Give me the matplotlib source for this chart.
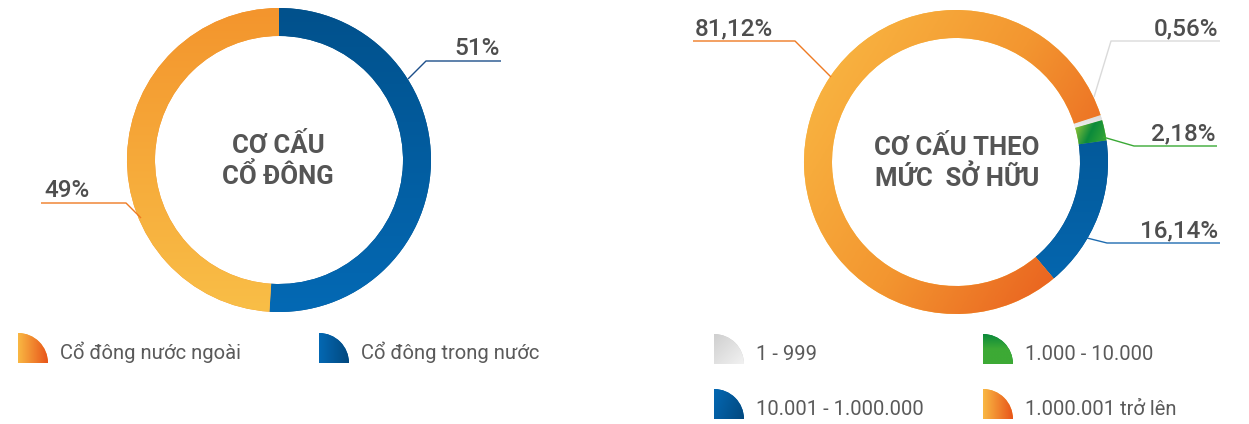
import numpy as np
import matplotlib
matplotlib.use("Agg")
import matplotlib.pyplot as plt
from matplotlib.colors import LinearSegmentedColormap
from matplotlib.patches import Wedge

plt.rcParams['font.family'] = ['Roboto', 'DejaVu Sans']

# ---------------- data ----------------
left_title = "CƠ CẤU\nCỔ ĐÔNG"
left_labels = ["Cổ đông trong nước", "Cổ đông nước ngoài"]
left_values = [51, 49]
left_texts = ["51%", "49%"]

right_title = "CƠ CẤU THEO\nMỨC  SỞ HỮU"
right_labels = ["1 - 999", "1.000 - 10.000", "10.001 - 1.000.000", "1.000.001 trở lên"]
right_values = [0.56, 2.18, 16.14, 81.12]
right_texts = ["0,56%", "2,18%", "16,14%", "81,12%"]

# ---------------- styles ----------------
W, H = 1249, 424
TXT = "#4E4E4E"

def Y(y):
    return H - y

# (colors, angle, local-gradient?)
left_grads = [(["#01518C", "#0469B4"], -90, False),
              (["#F3952D", "#F9BE47"], -90, False)]
left_line_colors = ["#1D4F8A", "#EE7A22"]
right_grads = [(["#DADADA", "#F0F0F0"], -90, True),
               (["#A6CE39", "#0B8A3B", "#3DAA35"], -20, True),
               (["#024E88", "#0569B3"], -90, False),
               (["#FABB45", "#F39630", "#E6501A"], -31, False)]
right_line_colors = ["#DADADA", "#3AA935", "#1F6CB0", "#EE7A22"]

fig = plt.figure(figsize=(W / 100, H / 100), dpi=100)
ax = fig.add_axes([0, 0, 1, 1])


def grad_fill(patch, colors, angle, extent, z=2):
    n = 200
    xs = np.linspace(-1, 1, n)
    X, Yg = np.meshgrid(xs, xs)
    a = np.deg2rad(angle)
    t = (X * np.cos(a) + Yg * np.sin(a)) / (abs(np.cos(a)) + abs(np.sin(a)))
    t = (t + 1) / 2
    cmap = LinearSegmentedColormap.from_list("g", colors)
    im = ax.imshow(t, cmap=cmap, vmin=0, vmax=1, origin='lower',
                   extent=extent, interpolation='bilinear', aspect='auto', zorder=z)
    im.set_clip_path(patch)


def patch_extent(p):
    bb = p.get_path().get_extents(p.get_patch_transform())
    return (bb.x0, bb.x1, bb.y0, bb.y1)


def donut(values, grads, cx, cy, R, width, start):
    wedges, _ = ax.pie(values, startangle=start, counterclock=False, radius=R,
                       center=(cx, Y(cy)), frame=True,
                       colors=[g[0][0] for g in grads],
                       wedgeprops=dict(width=width, linewidth=0))
    for w, (cols, ang, local) in zip(wedges, grads):
        if local:
            ext = patch_extent(w)
        else:
            ext = (cx - R, cx + R, Y(cy) - R, Y(cy) + R)
        grad_fill(w, cols, ang, ext)
    return wedges


# left donut
donut(left_values, left_grads, 279, 160, 152, 28, 90)
# right donut
donut(right_values, right_grads, 956, 162, 152, 28, 18)

# centre titles
ax.text(278, Y(161), left_title, ha='center', va='center', fontsize=18.5,
        fontweight='bold', color="#555555", linespacing=1.2, zorder=5)
ax.text(957, Y(163), right_title, ha='center', va='center', fontsize=18.5,
        fontweight='bold', color="#555555", linespacing=1.2, zorder=5)

# label leader lines (layout) and texts
def leader(pts, color):
    ax.plot([p[0] for p in pts], [Y(p[1]) for p in pts], color=color, lw=1.0,
            solid_capstyle='butt', zorder=4)

pct_kw = dict(fontsize=17.5, fontweight='medium', color=TXT, va='baseline', zorder=5)

# left: 51% (blue), 49% (orange)
leader([(408, 79), (426, 61), (501, 61)], left_line_colors[0])
ax.text(500, Y(55), left_texts[0], ha='right', **pct_kw)
leader([(141, 218), (126, 203), (41, 203)], left_line_colors[1])
ax.text(44, Y(197), left_texts[1], ha='left', **pct_kw)

# right
leader([(1094, 97), (1111, 41), (1220, 41)], right_line_colors[0])
ax.text(1218, Y(35), right_texts[0], ha='right', **pct_kw)
leader([(1103, 137), (1134, 146), (1217, 146)], right_line_colors[1])
ax.text(1216, Y(140), right_texts[1], ha='right', **pct_kw)
leader([(1087, 238), (1107, 243), (1220, 243)], right_line_colors[2])
ax.text(1218, Y(237), right_texts[2], ha='right', **pct_kw)
leader([(831, 77), (795, 41), (693, 41)], right_line_colors[3])
ax.text(695, Y(35), right_texts[3], ha='left', **pct_kw)

# legends
icon_grads_left = {left_labels[1]: (["#F9B843", "#E8541A"], 0),
                   left_labels[0]: (["#0468B3", "#02487E"], 0)}
icon_grads_right = [(["#CFCFCF", "#F2F2F2"], -45),
                    (["#0C8A3B", "#3DAA35", "#3DAA35"], -90),
                    (["#0468B3", "#02487E"], -20),
                    (["#F9B843", "#E8541A"], 0)]

def legend_item(x, y, r, label, cols, ang):
    w = Wedge((x, Y(y)), r, 0, 90, facecolor=cols[0], linewidth=0, zorder=2)
    ax.add_patch(w)
    grad_fill(w, cols, ang, (x, x + r, Y(y), Y(y) + r))
    ax.text(x + 42, Y(y) + 4, label, fontsize=14.5, color="#5A5A5A",
            ha='left', va='baseline', zorder=5)

legend_item(18, 363, 30, left_labels[1], *icon_grads_left[left_labels[1]])
legend_item(319, 363, 30, left_labels[0], *icon_grads_left[left_labels[0]])

right_pos = [(714, 364), (983, 364), (714, 419), (983, 419)]
for (lx, ly), lab, (cols, ang) in zip(right_pos, right_labels, icon_grads_right):
    legend_item(lx, ly, 30, lab, cols, ang)

ax.set_xlim(0, W)
ax.set_ylim(0, H)
ax.set_aspect('equal')
ax.axis('off')

fig.savefig("out.png", dpi=100, facecolor="white")
